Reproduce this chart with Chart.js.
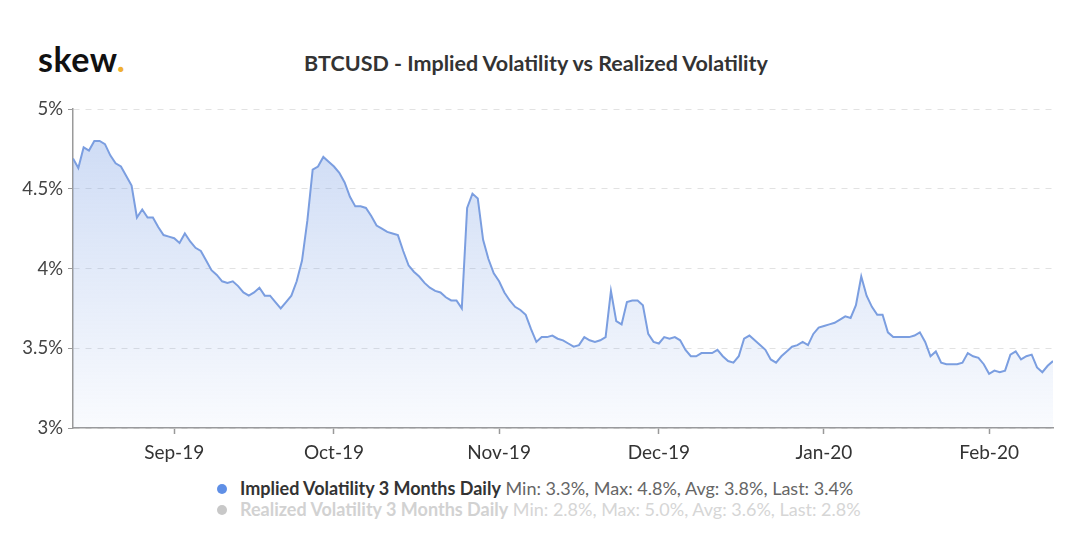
<!DOCTYPE html>
<html>
<head>
<meta charset="utf-8">
<script src="https://cdn.jsdelivr.net/npm/chart.js@4.4.1/dist/chart.umd.min.js"></script>
<style>
    body { margin: 0; background: #fff; font-family: Lato, "Open Sans", sans-serif; }
    #page { position: relative; width: 1080px; height: 542px; overflow: hidden; }
    #logo { position: absolute; left: 38px; top: 38px; font-size: 34px; font-weight: 700; color: #111; letter-spacing: 0.5px; }
    #logo span { color: #f0b030; }
    #title { position: absolute; left: 0; width: 1072px; top: 50px; text-align: center; font-size: 21.5px; font-weight: 700; color: #333; }
    #chartBox { position: absolute; left: 0; top: 93px; width: 1080px; height: 375px; }
    .legend-row { position: absolute; left: 217px; font-size: 18px; white-space: nowrap; }
    .legend-row .dot { display: inline-block; width: 10px; height: 10px; border-radius: 50%; margin-right: 13px; vertical-align: 1px; }
    .legend-row b { font-weight: 700; }
</style>
</head>
<body>
<div id="page">
    <div id="logo">skew<span>.</span></div>
    <div id="title">BTCUSD - Implied Volatility vs Realized Volatility</div>
    <div id="chartBox"><canvas id="ivChart"></canvas></div>
    <div class="legend-row" id="legendIv" style="top: 477px;"></div>
    <div class="legend-row" id="legendRv" style="top: 498px;"></div>
</div>
<script>
// daily points, 13 Aug 2019 (day 0) to 13 Feb 2020 (day 184)
const impliedVol = [
    4.69, 4.63, 4.76, 4.74, 4.80, 4.80, 4.78, 4.71, 4.66, 4.64,
    4.58, 4.52, 4.32, 4.37, 4.32, 4.32, 4.26, 4.21, 4.20, 4.19,
    4.16, 4.22, 4.17, 4.13, 4.11, 4.05, 3.99, 3.96, 3.92, 3.91,
    3.92, 3.89, 3.85, 3.83, 3.85, 3.88, 3.83, 3.83, 3.79, 3.75,
    3.79, 3.83, 3.92, 4.05, 4.30, 4.62, 4.64, 4.70, 4.67, 4.64,
    4.60, 4.54, 4.45, 4.39, 4.39, 4.38, 4.33, 4.27, 4.25, 4.23,
    4.22, 4.21, 4.11, 4.02, 3.98, 3.95, 3.91, 3.88, 3.86, 3.85,
    3.82, 3.80, 3.80, 3.75, 4.38, 4.47, 4.44, 4.18, 4.06, 3.97,
    3.92, 3.85, 3.80, 3.76, 3.74, 3.71, 3.62, 3.54, 3.57, 3.57,
    3.58, 3.56, 3.55, 3.53, 3.51, 3.52, 3.57, 3.55, 3.54, 3.55,
    3.57, 3.86, 3.67, 3.65, 3.79, 3.80, 3.80, 3.77, 3.59, 3.54,
    3.53, 3.57, 3.56, 3.57, 3.55, 3.49, 3.45, 3.45, 3.47, 3.47,
    3.47, 3.49, 3.45, 3.42, 3.41, 3.45, 3.56, 3.58, 3.55, 3.52,
    3.49, 3.43, 3.41, 3.45, 3.48, 3.51, 3.52, 3.54, 3.52, 3.59,
    3.63, 3.64, 3.65, 3.66, 3.68, 3.70, 3.69, 3.77, 3.95, 3.83,
    3.76, 3.71, 3.71, 3.60, 3.57, 3.57, 3.57, 3.57, 3.58, 3.60,
    3.54, 3.45, 3.48, 3.41, 3.40, 3.40, 3.40, 3.41, 3.47, 3.45,
    3.44, 3.40, 3.34, 3.36, 3.35, 3.36, 3.46, 3.48, 3.43, 3.45,
    3.46, 3.38, 3.35, 3.39, 3.42
];
const monthStartDays = [19, 49, 80, 110, 141, 172];
const monthLabels = ['Sep-19', 'Oct-19', 'Nov-19', 'Dec-19', 'Jan-20', 'Feb-20'];
const yTicks = [3, 3.5, 4, 4.5, 5];

const seriesNames = ['Implied Volatility 3 Months Daily', 'Realized Volatility 3 Months Daily'];
const seriesStats = ['Min: 3.3%, Max: 4.8%, Avg: 3.8%, Last: 3.4%', 'Min: 2.8%, Max: 5.0%, Avg: 3.6%, Last: 2.8%'];

document.getElementById('legendIv').innerHTML =
    '<span class="dot" style="background:#5f8fe6"></span><b style="color:#333">' + seriesNames[0] +
    '</b> <span style="color:#666">' + seriesStats[0] + '</span>';
document.getElementById('legendRv').innerHTML =
    '<span class="dot" style="background:#c8c8c8"></span><b style="color:#d2d2d2">' + seriesNames[1] +
    '</b> <span style="color:#d6d6d6">' + seriesStats[1] + '</span>';

const points = impliedVol.map((v, i) => ({ x: i, y: v }));

function fillGradient(context) {
    const area = context.chart.chartArea;
    if (!area) return 'rgba(120,155,225,0.15)';
    const g = context.chart.ctx.createLinearGradient(0, area.top, 0, area.bottom);
    g.addColorStop(0, 'rgba(110,150,225,0.36)');
    g.addColorStop(1, 'rgba(110,150,225,0.04)');
    return g;
}

new Chart(document.getElementById('ivChart'), {
    type: 'line',
    data: {
        datasets: [{
            label: seriesNames[0],
            data: points,
            borderColor: '#7b9ee0',
            borderWidth: 2,
            backgroundColor: fillGradient,
            fill: 'start',
            tension: 0,
            pointRadius: 0
        }]
    },
    options: {
        responsive: true,
        maintainAspectRatio: false,
        animation: false,
        layout: { padding: { top: 12, right: 27, left: 0, bottom: 0 } },
        plugins: { legend: { display: false }, tooltip: { enabled: false } },
        scales: {
            x: {
                type: 'linear',
                min: 0,
                max: impliedVol.length - 1,
                afterBuildTicks: scale => { scale.ticks = monthStartDays.map(d => ({ value: d })); },
                afterFit: scale => { scale.height = 40; },
                ticks: {
                    autoSkip: false,
                    maxRotation: 0,
                    padding: 7,
                    color: '#333',
                    font: { family: 'Lato', size: 19 },
                    callback: value => monthLabels[monthStartDays.indexOf(value)]
                },
                grid: { drawOnChartArea: false, drawTicks: true, tickLength: 6, tickColor: '#999', tickWidth: 1.5 },
                border: { color: '#9a9a9a', width: 1.5 }
            },
            y: {
                min: 3,
                max: 5,
                afterBuildTicks: scale => { scale.ticks = yTicks.map(v => ({ value: v })); },
                afterFit: scale => { scale.width = 73; },
                ticks: {
                    padding: 5,
                    color: '#444',
                    font: { family: 'Lato', size: 18.5 },
                    callback: value => value + '%'
                },
                grid: { color: '#e2e2e2', lineWidth: 1, tickLength: 5, tickColor: '#999', tickBorderDash: [] },
                border: { color: '#9a9a9a', width: 1.5, dash: [6, 6] }
            }
        }
    }
});
</script>
</body>
</html>
